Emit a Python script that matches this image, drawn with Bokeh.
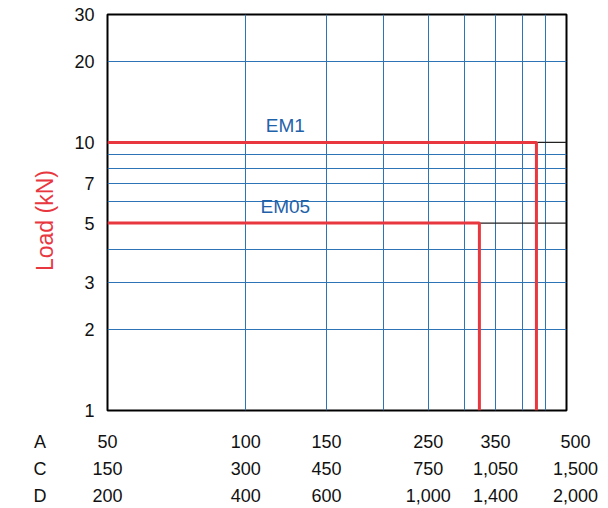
from bokeh.plotting import figure
from bokeh.models import FixedTicker, Label, LogAxis
from bokeh.embed import file_html
from bokeh.resources import INLINE

# data
y_ticks = [1, 2, 3, 5, 7, 10, 20, 30]
y_grid = [2, 3, 4, 6, 7, 8, 9, 20]
x_grid = [100, 150, 200, 250, 300, 350, 400, 450]
x_tick_pos = [50, 100, 150, 250, 350, 500]
row_names = ["A", "C", "D"]
row_A = ["50", "100", "150", "250", "350", "500"]
row_C = ["150", "300", "450", "750", "1,050", "1,500"]
row_D = ["200", "400", "600", "1,000", "1,400", "2,000"]
series = ["EM1", "EM05"]
loads = [10, 5]
max_speed = [430, 323]

RED = "#e8373f"
BLUE = "#2d74b6"
FONT = "Liberation Sans"

p = figure(frame_width=459, frame_height=396, x_axis_type="log", y_axis_type="log",
           x_range=(50, 500), y_range=(1, 30),
           output_backend="svg", toolbar_location=None,
           min_border_left=107, min_border_right=42, min_border_top=14, min_border_bottom=0)

p.outline_line_color = "black"
p.outline_line_width = 2
p.background_fill_color = "white"

p.xaxis.visible = False
yax = p.yaxis[0]
yax.ticker = FixedTicker(ticks=y_ticks)
yax.major_tick_line_color = None
yax.minor_tick_line_color = None
yax.axis_line_color = None
yax.major_tick_out = 0
yax.major_label_standoff = 13
yax.major_label_text_font = FONT
yax.major_label_text_font_size = "18px"
yax.major_label_text_color = "#111111"
yax.axis_label = "Load (kN)\u2002\u2009"
yax.axis_label_text_color = RED
yax.axis_label_text_font = FONT
yax.axis_label_text_font_style = "normal"
yax.axis_label_text_font_size = "23px"
yax.axis_label_standoff = 13

p.xgrid.ticker = FixedTicker(ticks=x_grid)
p.ygrid.ticker = FixedTicker(ticks=y_grid)
p.xgrid.grid_line_color = BLUE
p.ygrid.grid_line_color = BLUE
p.xgrid.grid_line_width = 1
p.ygrid.grid_line_width = 1

# black grid lines at series loads
for ld in loads:
    p.line([50, 500], [ld, ld], line_color="#222222", line_width=1.2)

# series limit lines
for name, ld, mx in zip(series, loads, max_speed):
    p.line([50, mx, mx], [ld, ld, 1], line_color=RED, line_width=3)
    p.add_layout(Label(x=122, y=ld, text=name, text_align="center",
                       text_baseline="bottom", y_offset=6,
                       text_font=FONT, text_font_size="19px", text_color="#1f62aa"))

# bottom multi-row scale as stacked axes; the row letter is a padded label
# on its own tick placed at the left edge of the scale
letter_tick = x_tick_pos[0]
num_ticks = [x_tick_pos[0] * 1.000001] + x_tick_pos[1:]
pad = "\u2003" * 7 + "\u2002"
standoffs = [21, 4, 4]
for rn, labels, so in zip(row_names, [row_A, row_C, row_D], standoffs):
    overrides = {letter_tick: rn + pad}
    for i, (xv, t) in enumerate(zip(num_ticks, labels)):
        overrides[xv] = ("\u2002\u2002" + t) if i == len(labels) - 1 else t
    ax = LogAxis(ticker=FixedTicker(ticks=[letter_tick] + num_ticks),
                 major_label_overrides=overrides,
                 major_tick_line_color=None, minor_tick_line_color=None,
                 axis_line_color=None, major_tick_out=0, major_tick_in=0,
                 major_label_standoff=so, major_label_text_font=FONT,
                 major_label_text_font_size="18px", major_label_text_color="#111111")
    p.add_layout(ax, "below")

open("out.html", "w").write(file_html(p, INLINE))
